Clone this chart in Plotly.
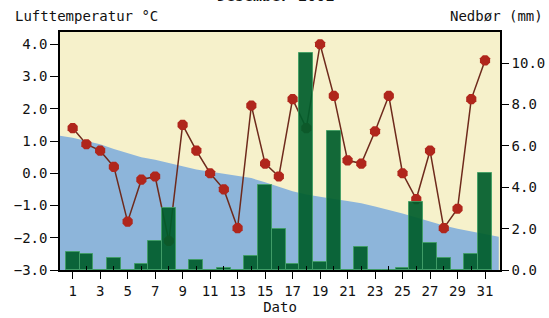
import plotly.graph_objects as go

days = list(range(1, 32))
temperature = [1.4, 0.9, 0.7, 0.2, -1.5, -0.2, -0.1, -2.1, 1.5, 0.7,
               0.0, -0.5, -1.7, 2.1, 0.3, -0.1, 2.3, 1.4, 4.0, 2.4,
               0.4, 0.3, 1.3, 2.4, 0.0, -0.8, 0.7, -1.7, -1.1, 2.3, 3.5]
precipitation = [0.85, 0.76, 0.0, 0.6, 0.0, 0.3, 1.4, 3.0, 0.0, 0.5,
                 0.0, 0.1, 0.0, 0.7, 4.1, 2.0, 0.3, 10.5, 0.4, 6.7,
                 0.0, 1.1, 0.0, 0.0, 0.1, 3.3, 1.3, 0.6, 0.0, 0.76, 4.7]
normal_days = list(range(0, 33))
normal_temp = [1.17, 1.1, 1.0, 0.9, 0.75, 0.62, 0.5, 0.42, 0.33, 0.22, 0.12,
               0.05, -0.02, -0.08, -0.15, -0.28, -0.42, -0.56, -0.66, -0.74, -0.8,
               -0.86, -0.93, -1.03, -1.13, -1.25, -1.37, -1.5, -1.62, -1.72, -1.8,
               -1.9, -1.97]
temp_ticks = [-3, -2, -1, 0, 1, 2, 3, 4]
precip_ticks = [0, 2, 4, 6, 8, 10]
odd_days = list(range(1, 32, 2))
even_days = list(range(2, 32, 2))

FONT = "DejaVu Sans Mono"
fig = go.Figure()

fig.add_trace(go.Scatter(x=normal_days, y=[-3] * len(normal_days), mode="lines",
                         line=dict(width=0, color="#8db5da"), hoverinfo="skip",
                         showlegend=False))
fig.add_trace(go.Scatter(x=normal_days, y=normal_temp, mode="lines",
                         line=dict(width=0, color="#8db5da"), fill="tonexty",
                         fillcolor="#8db5da", showlegend=False))
fig.add_trace(go.Scatter(x=days, y=temperature, mode="lines+markers",
                         line=dict(color="#6e2a1c", width=1.5),
                         marker=dict(symbol="octagon", size=11, color="#b0261c",
                                     line=dict(width=0)),
                         showlegend=False))
fig.add_trace(go.Bar(x=days, y=precipitation, yaxis="y2", width=1.0,
                     marker=dict(color="#005e2c", line=dict(color="#3a9a5e", width=1)),
                     opacity=0.92, showlegend=False))

fig.update_layout(
    width=549, height=318,
    margin=dict(l=60, r=49, t=32, b=48, autoexpand=False),
    paper_bgcolor="white", plot_bgcolor="#f6f1cb",
    font=dict(family=FONT, size=14, color="#111111"),
    bargap=0,
    xaxis=dict(range=[0.08, 32.09], tickvals=odd_days, ticktext=[str(d) for d in odd_days],
               ticks="outside", ticklen=7, tickcolor="black", showline=True,
               linecolor="black", linewidth=1.5, mirror=True, showgrid=False,
               zeroline=False, tickfont=dict(size=14), automargin=False,
               minor=dict(tickvals=even_days, ticks="inside", ticklen=4, tickcolor="black"),
               title=dict(text="Dato", standoff=3, font=dict(size=14))),
    yaxis=dict(range=[-3, 4.38], tickvals=temp_ticks, tickformat=".1f",
               ticks="outside", ticklen=8, tickcolor="black", showline=True,
               linecolor="black", linewidth=1.5, showgrid=False, zeroline=False,
               tickfont=dict(size=14), automargin=False),
    yaxis2=dict(range=[0, 11.5], tickvals=precip_ticks, tickformat=".1f",
                overlaying="y", side="right", ticks="outside", ticklen=7,
                tickcolor="black", showline=True, linecolor="black", linewidth=1.5,
                showgrid=False, zeroline=False, tickfont=dict(size=14), automargin=False),
    annotations=[
        dict(text="Lufttemperatur °C", xref="paper", yref="paper", x=-0.107, y=1.025,
             xanchor="left", yanchor="bottom", showarrow=False, font=dict(size=14)),
        dict(text="Nedbør (mm)", xref="paper", yref="paper", x=1.102, y=1.025,
             xanchor="right", yanchor="bottom", showarrow=False, font=dict(size=14)),
        dict(text="<b>Desember 2001</b>", xref="paper", yref="paper", x=0.49, y=1.105,
             xanchor="center", yanchor="bottom", showarrow=False, font=dict(size=15)),
    ],
)

fig.write_html("out.html", config={"displayModeBar": False},
               post_script="document.body.style.margin='0';document.body.style.overflow='hidden';")
